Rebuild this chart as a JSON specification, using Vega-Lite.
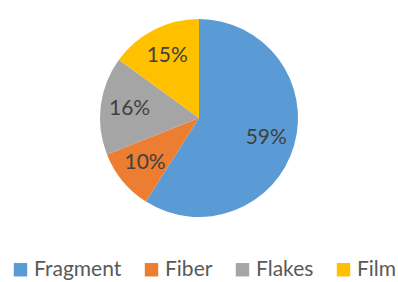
{
  "$schema": "https://vega.github.io/schema/vega-lite/v6.json",
  "width": 398,
  "height": 236,
  "padding": {"left": 0, "top": 0, "right": 0, "bottom": 46},
  "autosize": "none",
  "background": "white",
  "data": {
    "values": [
      {"type": "Fragment", "share": 0.59, "idx": 1},
      {"type": "Fiber", "share": 0.10, "idx": 2},
      {"type": "Flakes", "share": 0.16, "idx": 3},
      {"type": "Film", "share": 0.15, "idx": 4}
    ]
  },
  "encoding": {
    "theta": {"field": "share", "type": "quantitative", "stack": true},
    "order": {"field": "idx", "type": "quantitative"}
  },
  "layer": [
    {
      "mark": {"type": "arc", "outerRadius": 99},
      "encoding": {
        "color": {
          "field": "type",
          "type": "nominal",
          "scale": {
            "domain": ["Fragment", "Fiber", "Flakes", "Film"],
            "range": ["#5B9BD5", "#ED7D31", "#A5A5A5", "#FFC000"]
          },
          "legend": {
            "title": null,
            "orient": "none",
            "direction": "horizontal",
            "columns": 4,
            "legendX": 10,
            "legendY": 259,
            "symbolType": "square",
            "symbolSize": 180,
            "symbolStrokeWidth": 0,
            "labelFont": "Lato",
            "labelFontSize": 21,
            "labelColor": "#595959",
            "labelOffset": 3,
            "columnPadding": 19,
            "labelLimit": 200
          }
        }
      }
    },
    {
      "mark": {"type": "text", "radius": 70, "font": "Lato", "fontSize": 21, "color": "#404040"},
      "encoding": {
        "text": {"field": "share", "type": "quantitative", "format": ".0%"}
      }
    }
  ]
}
